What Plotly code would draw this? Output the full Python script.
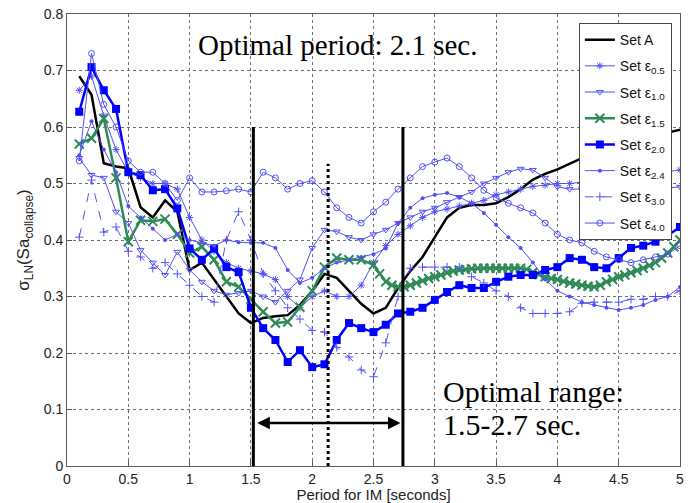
import plotly.graph_objects as go

# ---------------- data ----------------
periods = [round(0.1 * i, 1) for i in range(1, 51)]

set_a = [0.69, 0.657, 0.536, 0.53, 0.527, 0.458, 0.44, 0.47, 0.45, 0.347,
         0.36, 0.33, 0.30, 0.27, 0.253, 0.262, 0.265, 0.267, 0.285, 0.31,
         0.34, 0.333, 0.31, 0.287, 0.27, 0.28, 0.315, 0.345, 0.37, 0.405,
         0.44, 0.457, 0.462, 0.462, 0.465, 0.476, 0.49, 0.507, 0.517, 0.525,
         0.535, 0.545, 0.55, 0.56, 0.565, 0.57, 0.578, 0.585, 0.59, 0.595]

eps05 = [0.665, 0.69, 0.62, 0.56, 0.52, 0.51, 0.50, 0.50, 0.49, 0.44,
         0.40, 0.38, 0.36, 0.35, 0.345, 0.34, 0.33, 0.30, 0.28, 0.30,
         0.31, 0.30, 0.30, 0.32, 0.36, 0.39, 0.41, 0.425, 0.44, 0.45,
         0.455, 0.46, 0.465, 0.47, 0.48, 0.485, 0.49, 0.495, 0.497, 0.50,
         0.50, 0.502, 0.505, 0.507, 0.51, 0.512, 0.515, 0.518, 0.521, 0.524]

eps10 = [0.545, 0.515, 0.51, 0.45, 0.43, 0.382, 0.36, 0.338, 0.379, 0.347,
         0.326, 0.31, 0.303, 0.306, 0.31, 0.30, 0.29, 0.31, 0.33, 0.386,
         0.418, 0.415, 0.405, 0.40, 0.41, 0.418, 0.43, 0.44, 0.45, 0.457,
         0.467, 0.476, 0.485, 0.50, 0.51, 0.52, 0.526, 0.524, 0.51, 0.494,
         0.49, 0.49, 0.49, 0.49, 0.49, 0.49, 0.49, 0.49, 0.492, 0.494]

eps15_x = [0.1, 0.2, 0.3, 0.4, 0.5, 0.6, 0.7, 0.8, 0.9, 1.0,
           1.1, 1.2, 1.3, 1.4, 1.5, 1.6, 1.7, 1.8, 1.9, 2.0,
           2.1, 2.2, 2.3, 2.4, 2.5, 2.55, 2.6, 2.65, 2.7, 2.75,
           2.8, 2.85, 2.9, 2.95, 3.0, 3.05, 3.1, 3.15, 3.2, 3.25,
           3.3, 3.35, 3.4, 3.45, 3.5, 3.55, 3.6, 3.65, 3.7, 3.75,
           3.8, 3.85, 3.9, 3.95, 4.0, 4.05, 4.1, 4.15, 4.2, 4.25,
           4.3, 4.35, 4.4, 4.45, 4.5, 4.55, 4.6, 4.65, 4.7, 4.75,
           4.8, 4.85, 4.9, 4.95, 5.0]
eps15 = [0.57, 0.58, 0.615, 0.51, 0.397, 0.435, 0.433, 0.437, 0.41, 0.377,
         0.388, 0.365, 0.326, 0.317, 0.295, 0.273, 0.253, 0.255, 0.281, 0.31,
         0.352, 0.368, 0.365, 0.365, 0.356, 0.34, 0.326, 0.32, 0.317, 0.317,
         0.32, 0.324, 0.328, 0.332, 0.335, 0.338, 0.342, 0.345, 0.347, 0.348,
         0.349, 0.35, 0.35, 0.35, 0.35, 0.35, 0.35, 0.35, 0.35, 0.348,
         0.343, 0.339, 0.335, 0.332, 0.33, 0.327, 0.324, 0.322, 0.32, 0.318,
         0.317, 0.32, 0.326, 0.33, 0.335, 0.338, 0.342, 0.346, 0.35, 0.355,
         0.36, 0.368, 0.377, 0.388, 0.40]

eps20 = [0.627, 0.706, 0.665, 0.632, 0.52, 0.515, 0.488, 0.49, 0.456, 0.385,
         0.365, 0.385, 0.352, 0.343, 0.28, 0.244, 0.223, 0.184, 0.205, 0.175,
         0.18, 0.223, 0.253, 0.244, 0.237, 0.25, 0.27, 0.273, 0.28, 0.294,
         0.308, 0.32, 0.315, 0.315, 0.326, 0.335, 0.338, 0.338, 0.347, 0.352,
         0.368, 0.365, 0.352, 0.35, 0.368, 0.386, 0.39, 0.397, 0.408, 0.423]

eps24 = [0.55, 0.61, 0.56, 0.52, 0.46, 0.44, 0.42, 0.40, 0.41, 0.40,
         0.395, 0.39, 0.40, 0.396, 0.395, 0.395, 0.386, 0.347, 0.324, 0.333,
         0.35, 0.36, 0.365, 0.37, 0.375, 0.385, 0.43, 0.457, 0.474, 0.48,
         0.483, 0.476, 0.465, 0.448, 0.427, 0.405, 0.386, 0.36, 0.33, 0.31,
         0.30, 0.29, 0.285, 0.28, 0.276, 0.28, 0.285, 0.294, 0.30, 0.317]

eps30 = [0.405, 0.506, 0.414, 0.423, 0.38, 0.37, 0.35, 0.36, 0.34, 0.32,
         0.30, 0.29, 0.40, 0.45, 0.40, 0.34, 0.31, 0.28, 0.26, 0.24,
         0.237, 0.21, 0.193, 0.17, 0.158, 0.218, 0.30, 0.35, 0.352, 0.352,
         0.352, 0.352, 0.335, 0.324, 0.31, 0.30, 0.28, 0.27, 0.27, 0.27,
         0.273, 0.288, 0.29, 0.29, 0.29, 0.295, 0.295, 0.30, 0.30, 0.31]

eps40 = [0.54, 0.73, 0.64, 0.60, 0.54, 0.52, 0.52, 0.50, 0.47, 0.51,
         0.485, 0.485, 0.487, 0.49, 0.485, 0.52, 0.51, 0.49, 0.50, 0.505,
         0.485, 0.457, 0.44, 0.43, 0.45, 0.467, 0.49, 0.51, 0.53, 0.538,
         0.545, 0.53, 0.51, 0.488, 0.475, 0.465, 0.457, 0.448, 0.43, 0.41,
         0.40, 0.395, 0.38, 0.37, 0.365, 0.36, 0.365, 0.37, 0.375, 0.39]

range_lo, range_hi, best_period = 1.52, 2.74, 2.13
range_top, best_top, arrow_y = 0.6, 0.535, 0.076

# ---------------- figure ----------------
thin = "rgb(80,80,245)"
blue = "rgb(0,0,255)"
green = "#2E8B57"

fig = go.Figure()

def add(x, y, name, line, marker=None, mode="lines+markers"):
    fig.add_trace(go.Scatter(x=x, y=y, mode=mode, name=name, legendgroup=name,
                             line=line, marker=marker))

add(periods, set_a, "Set A", dict(color="black", width=2.5), mode="lines")
add(periods, eps05, "Set ε<sub>0.5</sub>", dict(color=thin, width=1),
    dict(symbol="asterisk-open", size=6, line=dict(color=thin, width=1)))
add(periods, eps10, "Set ε<sub>1.0</sub>", dict(color=thin, width=1),
    dict(symbol="triangle-down-open", size=6, color=thin, line=dict(width=1)))
add(eps15_x, eps15, "Set ε<sub>1.5</sub>", dict(color=green, width=2.5),
    dict(symbol="x-thin-open", size=9, line=dict(color=green, width=2)))
add(periods, eps20, "Set ε<sub>2.0</sub>", dict(color=blue, width=2.5),
    dict(symbol="square", size=8, color=blue))
add(periods, eps24, "Set ε<sub>2.4</sub>", dict(color=thin, width=1),
    dict(symbol="circle", size=4, color=thin))
add(periods, eps30, "Set ε<sub>3.0</sub>", dict(color=thin, width=1, dash="dash"),
    dict(symbol="cross-thin-open", size=6, line=dict(color=thin, width=1)))
add(periods, eps40, "Set ε<sub>4.0</sub>", dict(color=thin, width=1),
    dict(symbol="circle-open", size=6, color=thin, line=dict(width=1)))

# vertical range lines
for xv in (range_lo, range_hi):
    fig.add_shape(type="line", x0=xv, x1=xv, y0=0, y1=range_top, xref="x", yref="y",
                  line=dict(color="black", width=3))
fig.add_shape(type="line", x0=best_period, x1=best_period, y0=0, y1=best_top,
              xref="x", yref="y", line=dict(color="black", width=3, dash="dot"))

# double arrow
fig.add_annotation(x=range_hi - 0.02, y=arrow_y, ax=range_lo + 0.02, ay=arrow_y,
                   xref="x", yref="y", axref="x", ayref="y", text="",
                   showarrow=True, arrowhead=2, arrowside="end+start",
                   arrowsize=1, arrowwidth=2.5, arrowcolor="black")

serif = "Liberation Serif, Times New Roman, serif"
fig.add_annotation(x=2.21, y=0.745, xref="x", yref="y", text="Optimal period: 2.1 sec.",
                   showarrow=False, font=dict(family=serif, size=29, color="black"))
fig.add_annotation(x=3.05, y=0.131, xref="x", yref="y", xanchor="left",
                   text="Optimal range:", showarrow=False,
                   font=dict(family=serif, size=30, color="black"))
fig.add_annotation(x=3.05, y=0.0726, xref="x", yref="y", xanchor="left",
                   text="1.5-2.7 sec.", showarrow=False,
                   font=dict(family=serif, size=30, color="black"))

sans = "Liberation Sans, Arial, sans-serif"
axis_common = dict(showgrid=True, gridcolor="rgb(110,110,110)", griddash="dot", gridwidth=1,
                   showline=True, linecolor="rgb(90,90,90)", linewidth=1, mirror=True,
                   ticks="inside", ticklen=5, tickcolor="rgb(90,90,90)", zeroline=False,
                   automargin=False, ticklabeloverflow="allow",
                   tickfont=dict(family=sans, size=14, color="#222"))

fig.update_layout(
    width=693, height=503,
    margin=dict(l=67, r=13, t=14, b=37, autoexpand=False),
    paper_bgcolor="white", plot_bgcolor="white",
    font=dict(family=sans, size=13, color="#111"),
    showlegend=True,
    legend=dict(x=0.835, y=0.98, xanchor="left", yanchor="top",
                bgcolor="white", bordercolor="rgb(70,70,70)", borderwidth=1,
                font=dict(family=sans, size=14, color="#111"),
                itemwidth=30, tracegroupgap=5),
    xaxis=dict(range=[0, 5], dtick=0.5, tick0=0,
               title=dict(text="Period for IM [seconds]", standoff=0,
                          font=dict(family=sans, size=15, color="#222")),
               **axis_common),
    yaxis=dict(range=[0, 0.8], dtick=0.1, tick0=0,
               title=dict(text="σ<sub>LN</sub>(Sa<sub>collapse</sub>)", standoff=9,
                          font=dict(family=sans, size=17, color="#222")),
               **axis_common),
)

# remove the browser's default 8px body margin so the figure fills the window
fig.write_html("out.html", config={"displayModeBar": False},
               post_script="document.body.style.margin='0';document.documentElement.style.overflow='hidden';")
